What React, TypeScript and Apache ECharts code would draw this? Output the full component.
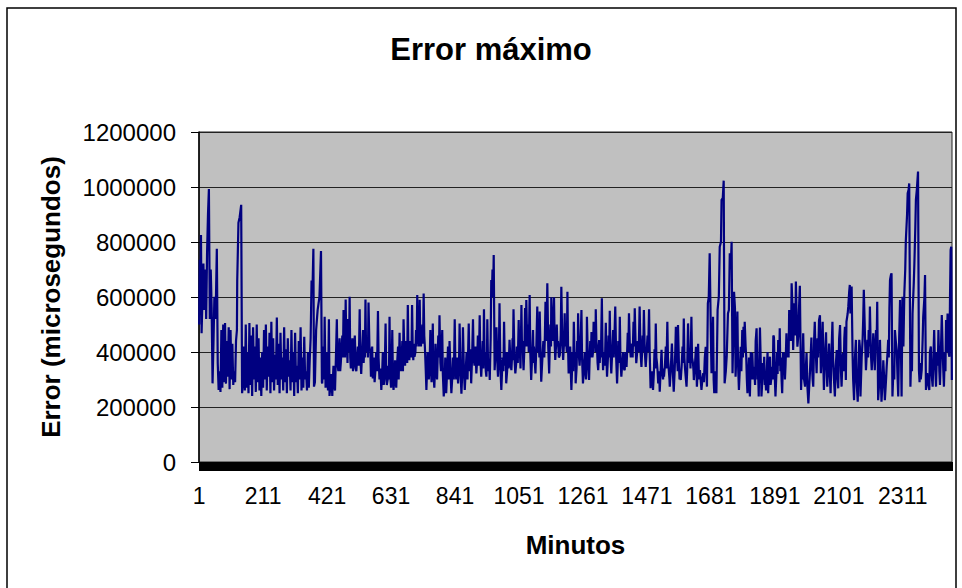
import React, { useEffect, useRef } from "react";
import * as echarts from "echarts";

const titleText = "Error máximo";
const xAxisTitle = "Minutos";
const yAxisTitle = "Error (microsegundos)";
const totalMinutes = 2472;
const xTickLabels = [1, 211, 421, 631, 841, 1051, 1261, 1471, 1681, 1891, 2101, 2311];
const yMax = 1200000;
const yStep = 200000;

// [minute, error in microseconds]
const segment1: [number, number][] = [
  [1,500000],[3,735000],[5,560000],[7,825000],[9,468000],[12,601000],[15,722000],[18,553000],[22,700000],[24,520000],
  [27,760000],[30,900000],[33,993000],[36,520000],[39,700000],[42,560000],[45,286000],[48,431000],[51,601000],[55,520000],
  [59,775000],[62,360000],[65,262000],[68,330000],[71,255000],[74,480000],[77,270000],[80,500000],[83,290000],[86,505000],
  [89,285000],[92,440000],[95,310000],[98,490000],[101,265000],[104,480000],[107,300000],[110,430000],[113,280000],[116,330000],
  [119,290000],[122,440000],[125,480000],[126,660000],[130,870000],[134,890000],[139,935000],[142,250000],[145,290000],[148,420000],
  [151,260000],[154,500000],[157,270000],[160,400000],[163,250000],[166,505000],[169,280000],[172,460000],[175,240000],[178,490000],
  [181,300000],[184,420000],[187,255000],[190,500000],[193,290000],[196,450000],[199,260000],[202,380000],[205,240000],[208,400000],
  [211,270000],[214,480000],[217,300000],[220,500000],[223,260000],[226,420000],[229,310000],[232,470000],[235,250000],[238,510000],
  [241,290000],[244,450000],[247,260000],[250,390000],[253,300000],[256,525000],[259,280000],[262,430000],[265,250000],[268,470000],
  [271,300000],[274,380000],[277,260000],[280,490000],[283,290000],[286,410000],[289,250000],[292,450000],[295,310000],[298,370000],
  [301,260000],[304,480000],[307,290000],[310,400000],[313,240000],[316,470000],[319,290000],[322,350000],[325,250000],[328,440000],
  [331,300000],[334,490000],[337,260000],[340,380000],[343,270000],[346,455000],[349,300000],[352,330000],[355,260000],[358,400000],
  [361,270000],[364,370000],[367,450000],[370,660000],[373,620000],[376,775000],[378,274000],[381,290000],[385,480000],[390,553000],
  [396,601000],[401,767000],[404,290000]
];

const segment2: [number, number][] = [
  [405,286000],[407,350000],[409,420000],[411,300000],[413,528000],[416,270000],[418,330000],[420,400000],[422,300000],[424,260000],
  [427,519000],[429,240000],[432,280000],[435,320000],[438,240000],[440,300000],[442,350000],[444,280000],[447,260000],[450,380000],
  [453,519000],[455,360000],[458,330000],[460,400000],[462,450000],[464,330000],[466,360000],[469,420000],[471,460000],[473,380000],
  [475,553000],[478,440000],[480,380000],[482,591000],[484,420000],[486,460000],[488,360000],[490,520000],[493,400000],[495,601000],
  [497,380000],[499,340000],[502,400000],[504,450000],[506,330000],[508,350000],[510,420000],[512,460000],[515,340000],[517,330000],
  [520,380000],[522,420000],[525,350000],[528,555000],[530,380000],[533,320000],[536,400000],[539,480000],[541,360000],[543,420000],
  [545,380000],[547,591000],[549,400000],[552,450000],[555,380000],[557,580000],[560,420000],[563,400000],[565,310000],[567,360000],
  [569,420000],[571,304000],[574,380000],[577,290000],[580,340000],[582,400000],[585,330000],[588,549000],[590,380000],[593,300000],
  [596,340000],[599,262000],[602,330000],[604,400000],[607,280000],[609,300000],[611,380000],[613,504000],[615,340000],[617,280000],
  [620,300000],[622,350000],[624,300000],[626,528000],[628,320000],[631,270000],[633,340000],[635,480000],[637,310000],[639,262000],
  [642,300000],[644,370000],[646,300000],[648,270000],[651,360000],[654,420000],[656,300000],[659,470000],[661,360000],[663,330000],
  [666,380000],[668,440000],[670,330000],[672,519000],[675,380000],[677,350000],[679,440000],[681,420000],[684,360000],[686,571000],
  [688,400000],[691,370000],[693,420000],[695,440000],[698,380000],[700,571000],[702,420000],[704,370000],[706,430000],[708,383000],
  [711,400000],[713,480000],[715,420000],[717,607000],[719,430000],[721,480000],[723,420000],[725,590000],[727,440000],[729,420000],
  [732,460000],[734,500000],[736,430000],[738,613000],[740,460000],[742,420000],[745,330000],[747,262000],[749,330000],[751,400000],
  [753,320000],[755,300000],[758,380000],[760,480000],[762,330000],[764,290000],[766,360000],[768,504000],[770,330000],[773,270000],
  [775,330000],[777,430000],[780,320000],[782,300000],[784,380000],[786,460000],[788,380000],[790,534000],[793,360000],[795,330000],
  [797,400000],[799,480000],[801,320000],[804,238000],[807,300000],[809,380000]
];

const segment3: [number, number][] = [
  [812,250000],[815,330000],[818,420000],[821,300000],[823,440000],[826,330000],[829,250000],[832,310000],[834,380000],[837,300000],
  [840,519000],[842,360000],[845,300000],[848,380000],[851,286000],[854,350000],[856,504000],[859,330000],[862,248000],[865,330000],
  [867,490000],[870,340000],[873,262000],[876,330000],[879,400000],[882,300000],[886,504000],[888,380000],[890,330000],[892,410000],
  [894,286000],[897,380000],[900,519000],[902,380000],[905,350000],[908,420000],[911,322000],[914,380000],[916,460000],[919,350000],
  [922,534000],[924,380000],[927,310000],[930,380000],[932,440000],[934,340000],[936,555000],[938,380000],[940,400000],[942,330000],
  [944,310000],[946,400000],[947,519000],[949,380000],[951,330000],[953,360000],[955,298000],[958,450000],[960,662000],[962,600000],
  [964,700000],[966,600000],[968,753000],[971,334000],[974,400000],[977,490000],[980,360000],[982,310000],[985,400000],[987,577000],
  [990,340000],[993,262000],[995,320000],[997,380000],[1000,330000],[1002,510000],[1004,380000],[1006,350000],[1008,400000],[1009,286000],
  [1012,330000],[1015,400000],[1017,340000],[1020,444000],[1023,360000],[1026,334000],[1028,380000],[1030,450000],[1031,370000],[1033,555000],
  [1036,380000],[1039,322000],[1042,360000],[1044,420000],[1047,360000],[1050,516000],[1052,380000],[1054,400000],[1056,340000],[1059,571000],
  [1061,400000],[1063,440000],[1065,360000],[1066,334000],[1069,420000],[1071,560000],[1073,420000],[1075,589000],[1078,420000],[1081,500000],
  [1083,400000],[1086,607000],[1088,400000],[1091,298000],[1094,380000],[1097,480000],[1099,360000],[1100,420000],[1103,360000],[1105,322000],
  [1108,420000],[1111,565000],[1113,400000],[1116,420000],[1118,380000],[1119,547000],[1122,380000],[1124,292000],[1127,360000],[1131,440000],
  [1134,380000],[1136,460000],[1138,583000],[1141,440000],[1144,650000],[1147,420000],[1150,322000],[1152,420000],[1154,500000],[1156,420000],
  [1157,599000],[1160,460000],[1162,440000],[1164,520000],[1166,599000],[1168,440000],[1170,371000],[1173,430000],[1175,500000],[1177,420000],
  [1179,440000],[1182,380000],[1185,389000],[1188,460000],[1190,637000],[1193,440000],[1196,371000],[1199,440000],[1201,541000],[1203,420000],
  [1205,460000],[1208,400000],[1210,619000],[1212,420000],[1214,322000],[1217,360000],[1219,420000]
];

const segment4: [number, number][] = [
  [1221,330000],[1223,262000],[1225,330000],[1227,400000],[1229,330000],[1231,510000],[1234,350000],[1236,400000],[1237,286000],[1240,340000],
  [1242,440000],[1244,380000],[1245,541000],[1248,380000],[1250,350000],[1253,420000],[1256,553000],[1258,380000],[1261,286000],[1264,340000],
  [1267,400000],[1269,330000],[1271,300000],[1273,380000],[1274,528000],[1277,380000],[1279,340000],[1281,298000],[1283,380000],[1285,440000],
  [1287,380000],[1289,473000],[1292,380000],[1294,400000],[1296,510000],[1298,420000],[1300,480000],[1302,400000],[1303,555000],[1305,440000],
  [1307,420000],[1309,360000],[1311,334000],[1313,380000],[1314,444000],[1316,360000],[1318,420000],[1320,380000],[1323,595000],[1325,420000],
  [1327,334000],[1329,380000],[1331,400000],[1333,350000],[1336,506000],[1338,380000],[1340,310000],[1343,380000],[1345,460000],[1347,380000],
  [1349,550000],[1351,400000],[1354,322000],[1357,400000],[1360,480000],[1362,380000],[1364,440000],[1367,565000],[1370,380000],[1373,286000],
  [1375,350000],[1377,440000],[1380,360000],[1382,528000],[1384,380000],[1387,310000],[1390,360000],[1393,400000],[1395,340000],[1398,334000],
  [1401,400000],[1404,346000],[1406,400000],[1408,470000],[1410,400000],[1412,541000],[1415,420000],[1418,380000],[1420,420000],[1422,430000],
  [1424,380000],[1427,510000],[1429,420000],[1431,559000],[1434,420000],[1436,359000],[1439,400000],[1441,440000],[1444,400000],[1447,565000],
  [1450,400000],[1453,346000],[1455,400000],[1457,460000],[1459,400000],[1461,553000],[1464,400000],[1467,346000],[1470,400000],[1473,460000],
  [1475,400000],[1478,555000],[1480,400000],[1483,268000],[1485,330000],[1487,300000],[1489,330000],[1491,262000],[1494,330000],[1496,410000],
  [1498,340000],[1500,504000],[1502,380000],[1504,360000],[1506,330000],[1508,286000],[1511,330000],[1513,256000],[1516,330000],[1519,408000],
  [1521,330000],[1524,300000],[1526,340000],[1527,310000],[1530,350000],[1533,420000],[1535,340000],[1538,510000],[1540,380000],[1543,330000],
  [1545,300000],[1546,274000],[1549,330000],[1553,431000],[1556,330000],[1559,256000],[1562,330000],[1564,400000],[1566,492000],[1568,360000],
  [1570,380000],[1572,330000],[1573,498000],[1576,360000],[1578,300000],[1580,330000],[1582,298000],[1585,350000],[1588,420000],[1590,360000],
  [1592,522000],[1594,380000],[1596,340000],[1599,300000],[1601,274000],[1603,330000],[1606,504000],[1609,360000],[1612,400000],[1614,340000],
  [1617,528000],[1619,380000],[1622,360000],[1624,330000],[1625,298000],[1628,340000]
];

const segment5: [number, number][] = [
  [1632,419000],[1635,274000],[1637,320000],[1639,430000],[1642,300000],[1645,334000],[1648,290000],[1650,262000],[1653,300000],[1656,323000],
  [1658,290000],[1661,380000],[1664,419000],[1666,330000],[1668,274000],[1671,577000],[1674,600000],[1677,759000],[1681,450000],[1683,323000],
  [1686,420000],[1688,528000],[1690,300000],[1692,250000],[1694,330000],[1696,300000],[1699,250000],[1701,400000],[1703,553000],[1707,601000],
  [1710,783000],[1714,800000],[1716,953000],[1720,960000],[1723,1023000],[1726,286000],[1730,330000],[1733,386000],[1737,540000],[1740,553000],
  [1743,759000],[1746,700000],[1749,801000],[1752,323000],[1755,480000],[1757,619000],[1760,560000],[1762,310000],[1765,400000],[1768,547000],
  [1770,360000],[1773,262000],[1776,340000],[1779,419000],[1781,330000],[1784,480000],[1786,380000],[1788,492000],[1790,400000],[1792,510000],
  [1795,420000],[1797,380000],[1799,300000],[1801,250000],[1804,330000],[1806,380000],[1809,238000],[1812,400000],[1814,300000],[1817,396000],
  [1820,300000],[1823,346000],[1826,280000],[1828,440000],[1831,486000],[1834,300000],[1836,330000],[1838,238000],[1842,489000],[1845,350000],
  [1847,238000],[1850,300000],[1852,360000],[1854,300000],[1856,383000],[1858,280000],[1860,300000],[1862,260000],[1864,323000],[1867,400000],
  [1869,250000],[1872,350000],[1875,383000],[1877,280000],[1879,300000],[1882,346000],[1884,300000],[1886,460000],[1888,454000],[1891,300000],
  [1893,238000],[1896,320000],[1898,400000],[1900,320000],[1902,444000],[1905,350000],[1907,486000],[1909,330000],[1911,380000],[1913,300000],
  [1915,250000],[1918,400000],[1920,330000],[1922,396000],[1924,300000],[1926,350000],[1929,468000],[1931,380000],[1934,420000],[1936,380000],
  [1938,553000],[1941,480000],[1944,440000],[1946,650000],[1949,560000],[1951,407000],[1955,577000],[1958,460000],[1960,656000],[1963,500000],
  [1965,419000],[1968,460000],[1970,550000],[1973,641000],[1977,262000],[1979,330000],[1981,300000],[1984,468000],[1987,300000],[1990,274000],
  [1993,350000],[1995,396000],[1998,270000],[2001,213000],[2004,280000],[2006,323000],[2009,400000],[2011,453000],[2013,350000],[2015,300000],
  [2017,274000],[2020,450000],[2022,510000],[2024,420000],[2026,380000],[2028,323000],[2031,450000],[2033,380000],[2036,516000]
];

const segment6: [number, number][] = [
  [2039,534000],[2042,323000],[2045,400000],[2048,510000],[2050,360000],[2052,262000],[2055,380000],[2059,472000],[2061,340000],[2063,274000],
  [2066,350000],[2069,431000],[2071,330000],[2074,250000],[2077,400000],[2080,510000],[2082,380000],[2085,300000],[2088,238000],[2091,350000],
  [2094,407000],[2097,300000],[2099,268000],[2102,450000],[2105,498000],[2108,330000],[2110,274000],[2113,380000],[2115,396000],[2117,330000],
  [2119,450000],[2121,492000],[2124,298000],[2126,510000],[2130,540000],[2132,565000],[2135,620000],[2137,644000],[2139,540000],[2141,620000],
  [2143,638000],[2146,396000],[2148,300000],[2151,225000],[2154,380000],[2157,444000],[2159,300000],[2163,219000],[2166,350000],[2168,444000],
  [2170,420000],[2172,238000],[2176,380000],[2179,444000],[2181,520000],[2183,626000],[2187,450000],[2190,334000],[2193,400000],[2195,444000],
  [2197,380000],[2199,480000],[2201,420000],[2203,565000],[2206,400000],[2209,334000],[2212,400000],[2214,468000],[2217,400000],[2219,334000],
  [2221,400000],[2223,480000],[2225,420000],[2227,583000],[2230,225000],[2232,260000],[2234,300000],[2236,444000],[2239,300000],[2241,219000],
  [2243,260000],[2245,300000],[2247,370000],[2250,300000],[2252,225000],[2254,260000],[2256,300000],[2258,346000],[2261,400000],[2263,444000],
  [2265,380000],[2267,560000],[2269,662000],[2272,680000],[2274,686000],[2277,238000],[2279,300000],[2281,350000],[2283,300000],[2285,480000],
  [2288,440000],[2291,407000],[2294,300000],[2296,238000],[2299,450000],[2302,589000],[2305,400000],[2307,238000],[2310,601000],[2313,420000],
  [2316,613000],[2319,700000],[2321,807000],[2325,900000],[2327,977000],[2330,990000],[2332,1013000],[2336,274000],[2339,400000],[2341,330000],
  [2343,540000],[2347,650000],[2349,722000],[2352,850000],[2354,953000],[2357,990000],[2361,1056000],[2364,334000],[2366,290000],[2368,360000],
  [2370,300000],[2373,334000],[2376,440000],[2378,528000],[2382,600000],[2384,680000],[2387,262000],[2389,300000],[2391,323000],[2393,300000],
  [2395,280000],[2398,262000],[2400,400000],[2403,420000],[2405,330000],[2407,300000],[2409,274000],[2412,400000],[2414,480000],[2416,380000],
  [2418,330000],[2420,274000],[2423,400000],[2426,350000],[2428,480000],[2431,330000],[2433,280000],[2436,400000],[2439,534000],[2442,400000],
  [2444,330000],[2446,274000],[2449,400000],[2451,330000],[2453,516000],[2455,400000],[2458,540000],[2461,400000],[2464,383000],[2466,600000],
  [2468,771000],[2470,783000],[2472,298000]
];

const FONT = "'Liberation Sans', Arial, sans-serif";

export default function App() {
  const ref = useRef<HTMLDivElement>(null);
  useEffect(() => {
    if (!ref.current) return;
    const chart = echarts.init(ref.current, null, { renderer: "svg" });
    const series = [
      ...segment1, ...segment2, ...segment3, ...segment4, ...segment5, ...segment6,
    ];
    const allMinuteTicks = Array.from({ length: totalMinutes }, (_, i) => i + 1);
    chart.setOption({
      animation: false,
      backgroundColor: "#ffffff",
      textStyle: { fontFamily: FONT },
      grid: {
        left: 199,
        right: 10,
        top: 132,
        bottom: 126,
        show: true,
        backgroundColor: "#C0C0C0",
        borderColor: "#222",
        borderWidth: 1,
      },
      graphic: [
        {
          type: "rect",
          silent: true,
          shape: { x: 7, y: 8, width: 949, height: 600 },
          style: { fill: "none", stroke: "#000", lineWidth: 1.5 },
        },
        {
          type: "text",
          x: 491,
          y: 49,
          style: {
            text: titleText,
            fontFamily: FONT,
            fontSize: 31,
            fontWeight: "bold",
            fill: "#000",
            align: "center",
            verticalAlign: "middle",
          },
        },
      ],
      xAxis: {
        type: "value",
        min: 0.5,
        max: totalMinutes + 0.5,
        name: xAxisTitle,
        nameLocation: "middle",
        nameGap: 83,
        nameTextStyle: {
          fontFamily: FONT,
          fontSize: 26,
          fontWeight: "bold",
          color: "#000",
          verticalAlign: "middle",
        },
        axisLine: { show: true, lineStyle: { color: "#000", width: 1 } },
        axisTick: {
          show: true,
          customValues: allMinuteTicks,
          length: 9,
          lineStyle: { color: "#000", width: 1 },
        },
        axisLabel: {
          customValues: xTickLabels,
          formatter: (v: number) => String(v),
          fontFamily: FONT,
          fontSize: 23,
          color: "#000",
          margin: 22,
        },
        splitLine: { show: false },
      },
      yAxis: {
        type: "value",
        min: 0,
        max: yMax,
        interval: yStep,
        name: yAxisTitle,
        nameLocation: "middle",
        nameRotate: 90,
        nameGap: 148,
        nameTextStyle: {
          fontFamily: FONT,
          fontSize: 26,
          fontWeight: "bold",
          color: "#000",
          verticalAlign: "middle",
        },
        axisLine: { show: true, lineStyle: { color: "#000", width: 1.5 } },
        axisTick: { show: true, length: 8, lineStyle: { color: "#000" } },
        axisLabel: {
          formatter: (v: number) => String(v),
          fontFamily: FONT,
          fontSize: 24,
          color: "#000",
          margin: 23,
        },
        splitLine: { show: true, lineStyle: { color: "#222", width: 1 } },
      },
      series: [
        {
          type: "line",
          data: series,
          showSymbol: false,
          symbol: "none",
          lineStyle: { color: "#000080", width: 2.2 },
          itemStyle: { color: "#000080" },
        },
      ],
    });
    return () => chart.dispose();
  }, []);
  return (
    <div
      ref={ref}
      style={{ position: "fixed", left: 0, top: 0, width: 962, height: 588, background: "#fff" }}
    />
  );
}
